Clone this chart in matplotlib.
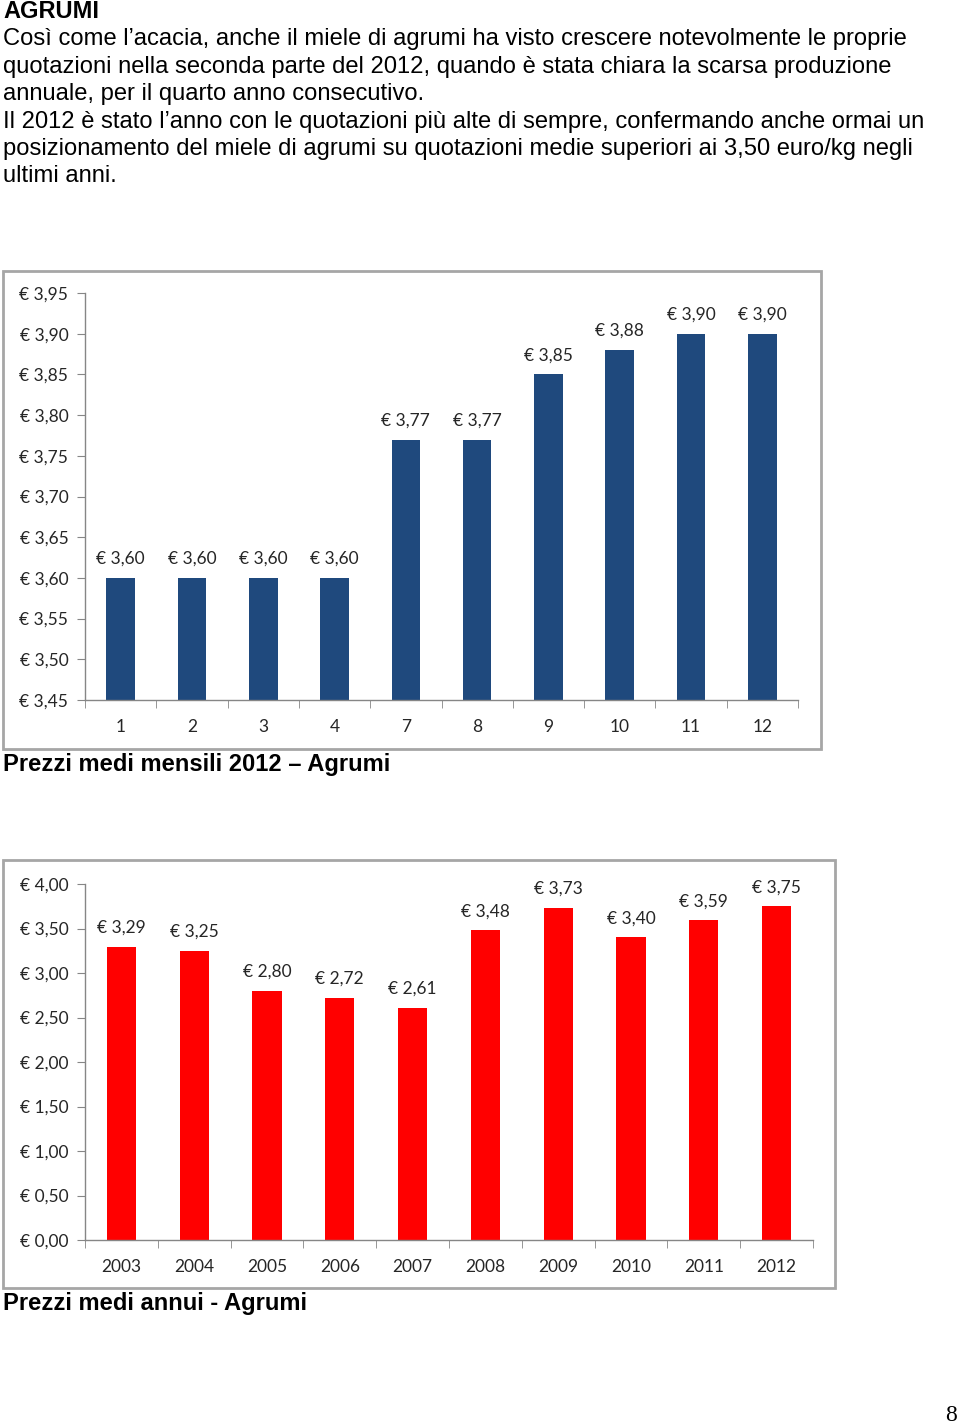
import matplotlib.pyplot as plt
from matplotlib.patches import Rectangle
from matplotlib.ticker import FixedLocator
import numpy as np

# monthly 2012 prices
months = ["1", "2", "3", "4", "7", "8", "9", "10", "11", "12"]
monthly_prices = [3.60, 3.60, 3.60, 3.60, 3.77, 3.77, 3.85, 3.88, 3.90, 3.90]
monthly_ticks = [3.45, 3.50, 3.55, 3.60, 3.65, 3.70, 3.75, 3.80, 3.85, 3.90, 3.95]

# yearly average prices
years = ["2003", "2004", "2005", "2006", "2007", "2008", "2009", "2010", "2011", "2012"]
yearly_prices = [3.29, 3.25, 2.80, 2.72, 2.61, 3.48, 3.73, 3.40, 3.59, 3.75]
yearly_ticks = [0.0, 0.5, 1.0, 1.5, 2.0, 2.5, 3.0, 3.5, 4.0]

body_lines = [
    "Così come l’acacia, anche il miele di agrumi ha visto crescere notevolmente le proprie",
    "quotazioni nella seconda parte del 2012, quando è stata chiara la scarsa produzione",
    "annuale, per il quarto anno consecutivo.",
    "Il 2012 è stato l’anno con le quotazioni più alte di sempre, confermando anche ormai un",
    "posizionamento del miele di agrumi su quotazioni medie superiori ai 3,50 euro/kg negli",
    "ultimi anni.",
]

W, H = 960, 1425
fig = plt.figure(figsize=(W / 100, H / 100), dpi=100)


def fx(x):
    return x / W


def fy(y):
    return 1 - y / H


def euro(v):
    return "€ " + f"{v:.2f}".replace(".", ",")


AX_GRAY = "#868686"
TXT = "#262626"
chart_font = "Lato"

# header text
fig.text(fx(3), fy(18.5), "AGRUMI", fontsize=17, fontweight="bold",
         family="Liberation Sans", va="baseline")
for i, line in enumerate(body_lines):
    fig.text(fx(3), fy(45.5 + i * 27.4), line, fontsize=17.1,
             family="Liberation Sans", va="baseline")


def bar_chart(rect, frame, cats, vals, ticks, color, ylim, label_gap):
    left, top, right, bottom = rect
    fig.add_artist(Rectangle((fx(frame[0]), fy(frame[3])),
                             fx(frame[2] - frame[0]), (frame[3] - frame[1]) / H,
                             transform=fig.transFigure, fill=False,
                             edgecolor="#a6a6a6", linewidth=2))
    ax = fig.add_axes([fx(left), fy(bottom), fx(right - left), (bottom - top) / H])
    x = np.arange(len(cats))
    ax.bar(x, vals, width=0.4, color=color, zorder=2)
    ax.set_xlim(-0.5, len(cats) - 0.5)
    ax.set_ylim(*ylim)
    for s in ["top", "right"]:
        ax.spines[s].set_visible(False)
    for s in ["left", "bottom"]:
        ax.spines[s].set_color(AX_GRAY)
        ax.spines[s].set_linewidth(1)
    ax.set_yticks(ticks)
    ax.set_yticklabels([euro(t) for t in ticks], family=chart_font,
                       fontsize=12.5, color=TXT)
    ax.tick_params(axis="y", length=6, color=AX_GRAY, pad=6)
    ax.set_xticks(x)
    ax.set_xticklabels(cats, family=chart_font, fontsize=12.5, color=TXT)
    ax.tick_params(axis="x", which="major", length=0, pad=14)
    ax.xaxis.set_minor_locator(FixedLocator(np.arange(len(cats) + 1) - 0.5))
    ax.tick_params(axis="x", which="minor", length=6, color=AX_GRAY)
    for xi, v in zip(x, vals):
        ax.annotate(euro(v), (xi, v), xytext=(0, label_gap), textcoords="offset points",
                    ha="center", va="bottom", family=chart_font, fontsize=12.5,
                    color=TXT)
    return ax


bar_chart((85, 293, 798, 700), (3, 271, 821, 749), months, monthly_prices,
          monthly_ticks, "#1f497d", (3.45, 3.95), 8)
fig.text(fx(3), fy(771), "Prezzi medi mensili 2012 – Agrumi", fontsize=17.1,
         fontweight="bold", family="Liberation Sans", va="baseline")

bar_chart((85, 884, 813, 1240), (3, 860, 835, 1288), years, yearly_prices,
          yearly_ticks, "#ff0000", (0, 4.0), 8)
fig.text(fx(3), fy(1310), "Prezzi medi annui - Agrumi", fontsize=17.1,
         fontweight="bold", family="Liberation Sans", va="baseline")

fig.text(fx(957), fy(1421), "8", fontsize=17, family="Liberation Serif",
         ha="right", va="baseline")

fig.savefig("out.png", dpi=100)
